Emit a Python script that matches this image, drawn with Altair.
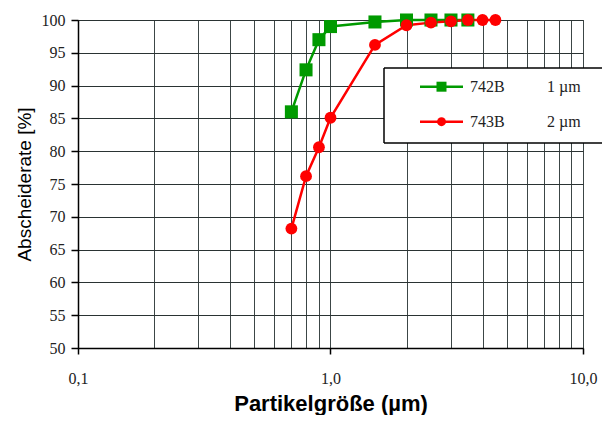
import altair as alt
import pandas as pd

# ---- data ----
series_names = ["742B", "743B"]
series_sizes = ["1 µm", "2 µm"]
series_colors = ["#009a00", "#ff0000"]
series_shapes = ["square", "circle"]

x_742B = [0.7, 0.8, 0.9, 1.0, 1.5, 2.0, 2.5, 3.0, 3.5]
y_742B = [86.0, 92.4, 97.0, 99.0, 99.7, 100.0, 100.0, 100.0, 100.0]

x_743B = [0.7, 0.8, 0.9, 1.0, 1.5, 2.0, 2.5, 3.0, 3.5, 4.0, 4.5]
y_743B = [68.2, 76.2, 80.6, 85.1, 96.2, 99.2, 99.6, 99.8, 100.0, 100.0, 100.0]

x_grid_values = [0.1, 0.2, 0.3, 0.4, 0.5, 0.6, 0.7, 0.8, 0.9,
                 1, 2, 3, 4, 5, 6, 7, 8, 9, 10]
y_tick_values = [50, 55, 60, 65, 70, 75, 80, 85, 90, 95, 100]

df = pd.concat([
    pd.DataFrame({"size": x_742B, "rate": y_742B, "series": "742B"}),
    pd.DataFrame({"size": x_743B, "rate": y_743B, "series": "743B"}),
], ignore_index=True)

SERIF = "Liberation Serif"
SANS = "Liberation Sans"
W, H = 505, 328

x_enc = alt.X(
    "size:Q",
    scale=alt.Scale(type="log", domain=[0.1, 10], nice=False),
    axis=alt.Axis(
        values=x_grid_values,
        grid=True, gridColor="#3c4646", gridWidth=1,
        domainColor="black", domainWidth=1.5,
        ticks=True, tickSize=6, tickColor="black", tickWidth=1.5,
        tickOpacity={"condition": {"test": "datum.value == 0.1 || datum.value == 1 || datum.value == 10", "value": 1}, "value": 0},
        labelExpr="datum.value == 0.1 ? '0,1' : datum.value == 1 ? '1,0' : datum.value == 10 ? '10,0' : ''",
        labelFont=SERIF, labelFontSize=16, labelColor="#222",
        labelPadding=24, labelBaseline="middle",
        labelOverlap=False, labelFlush=False, labelBound=False,
        title="Partikelgröße (µm)", titleFont=SANS, titleFontSize=22,
        titleFontWeight="bold", titleColor="black",
        titleX=W / 2, titleY=55, titleBaseline="middle", titleAlign="center",
    ),
)
y_enc = alt.Y(
    "rate:Q",
    scale=alt.Scale(domain=[50, 100], zero=False, nice=False),
    axis=alt.Axis(
        values=y_tick_values,
        grid=True, gridColor="#2a3333", gridWidth=1,
        domainColor="black", domainWidth=1.5,
        tickSize=7, tickColor="black", tickWidth=1.5,
        labelFont=SERIF, labelFontSize=16, labelColor="#222",
        labelPadding=6,
        title="Abscheiderate [%]", titleFont=SANS, titleFontSize=19,
        titleFontWeight="normal", titleColor="black",
        titleAngle=270, titleX=-54, titleY=H / 2,
        titleBaseline="middle", titleAlign="center",
    ),
)

color_scale = alt.Scale(domain=series_names, range=series_colors)
shape_scale = alt.Scale(domain=series_names, range=series_shapes)
size_scale = alt.Scale(domain=series_names, range=[170, 140])

base = alt.Chart(df).encode(x=x_enc, y=y_enc)

lines = base.mark_line(strokeWidth=2.5).encode(
    color=alt.Color("series:N", scale=color_scale, legend=None),
    detail="series:N",
)
points = base.mark_point(filled=True, opacity=1).encode(
    color=alt.Color("series:N", scale=color_scale, legend=None),
    shape=alt.Shape("series:N", scale=shape_scale, legend=None),
    size=alt.Size("series:N", scale=size_scale, legend=None),
)

# ---- legend drawn as a box inside the plot (open to the right edge) ----
one = pd.DataFrame({"k": [0]})
box = alt.Chart(one).mark_rect(fill="white", strokeWidth=0).encode(
    x=alt.value(306), x2=alt.value(560), y=alt.value(48), y2=alt.value(123))
box_top = alt.Chart(one).mark_rule(color="black", strokeWidth=1.5).encode(
    x=alt.value(306), x2=alt.value(560), y=alt.value(48))
box_bottom = alt.Chart(one).mark_rule(color="black", strokeWidth=1.5).encode(
    x=alt.value(306), x2=alt.value(560), y=alt.value(123))
box_left = alt.Chart(one).mark_rule(color="black", strokeWidth=1.5).encode(
    x=alt.value(306), y=alt.value(48), y2=alt.value(123))

legend_layers = [box, box_top, box_bottom, box_left]
row_y = [66.7, 101.7]
legend_marker_sizes = [100, 80]
for i, name in enumerate(series_names):
    ldf = pd.DataFrame({"name": [name], "sz": [series_sizes[i]]})
    lc = alt.Chart(ldf)
    legend_layers.append(
        lc.mark_rule(color=series_colors[i], strokeWidth=2.5).encode(
            x=alt.value(342), x2=alt.value(385), y=alt.value(row_y[i]))
    )
    legend_layers.append(
        lc.mark_point(filled=True, opacity=1, color=series_colors[i],
                      shape=series_shapes[i], size=legend_marker_sizes[i]).encode(
            x=alt.value(363.5), y=alt.value(row_y[i]))
    )
    legend_layers.append(
        lc.mark_text(font=SERIF, fontSize=16, align="left", baseline="middle",
                     color="#222").encode(
            x=alt.value(392), y=alt.value(row_y[i]), text="name:N")
    )
    legend_layers.append(
        lc.mark_text(font=SERIF, fontSize=16, align="left", baseline="middle",
                     color="#222").encode(
            x=alt.value(469), y=alt.value(row_y[i]), text="sz:N")
    )

chart = alt.layer(lines, points, *legend_layers).properties(
    width=W, height=H,
    autosize=alt.AutoSizeParams(type="none"),
    padding={"left": 70, "top": 12, "right": 19, "bottom": 67},
    background="white",
).configure_view(stroke="#333", strokeWidth=1)

chart.save("out.html", embed_options={"renderer": "svg", "actions": False})
